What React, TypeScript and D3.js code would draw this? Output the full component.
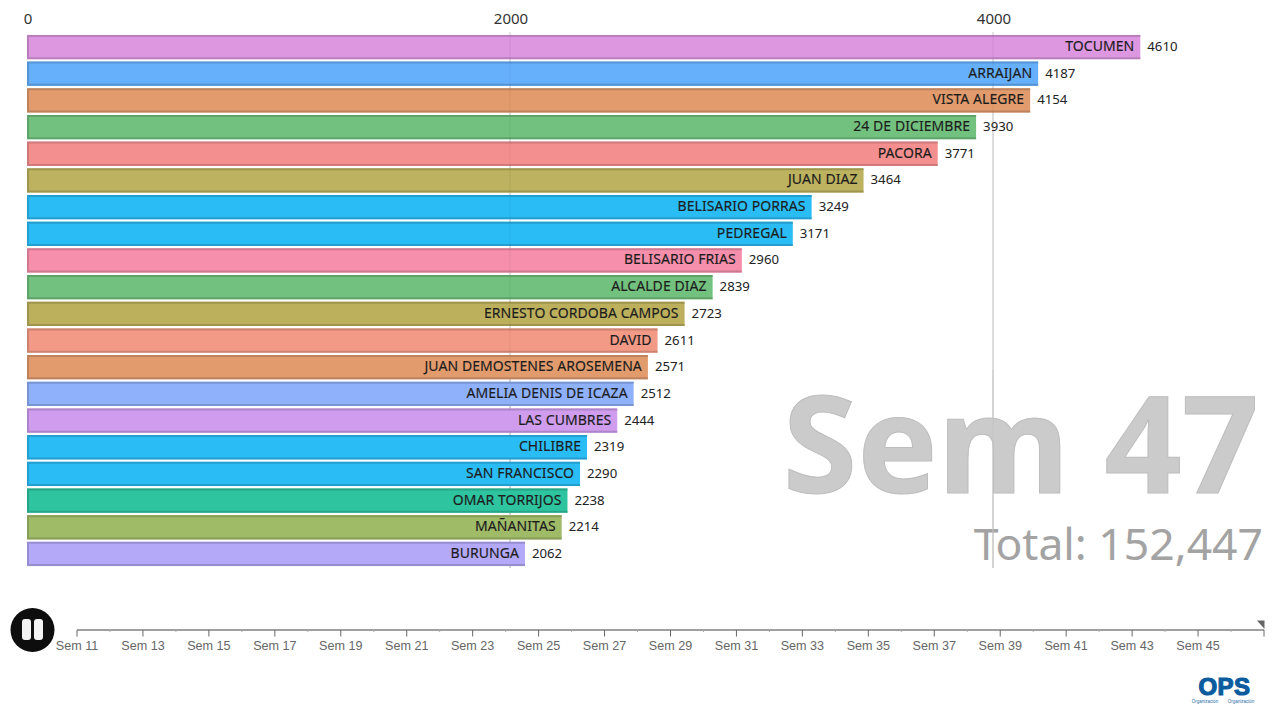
import React from "react";
import * as d3 from "d3";

const names = ["TOCUMEN","ARRAIJAN","VISTA ALEGRE","24 DE DICIEMBRE","PACORA","JUAN DIAZ","BELISARIO PORRAS","PEDREGAL","BELISARIO FRIAS","ALCALDE DIAZ","ERNESTO CORDOBA CAMPOS","DAVID","JUAN DEMOSTENES AROSEMENA","AMELIA DENIS DE ICAZA","LAS CUMBRES","CHILIBRE","SAN FRANCISCO","OMAR TORRIJOS","MAÑANITAS","BURUNGA"];
const values = [4610,4187,4154,3930,3771,3464,3249,3171,2960,2839,2723,2611,2571,2512,2444,2319,2290,2238,2214,2062];
const colors = ["#dc97e0","#66b0fb","#e29b6d","#72c17e","#f48f8f","#bcb25e","#2bbcf5","#2bbcf5","#f58fab","#72c17e","#bdb05c","#f29a86","#e29b6d","#8fb0fa","#cf9cee","#2bbcf5","#2bbcf5","#2fc4a0","#a0bb68","#b4a8f8"];
const axisTicks = [0,2000,4000];
const weeks = d3.range(11, 48);
const weekLabels = d3.range(11, 46, 2);

const x = d3.scaleLinear().domain([0, 4000]).range([27, 993]);
const y = d3.scaleBand<number>().domain(d3.range(names.length)).range([33.7, 567.3]).paddingInner(0.09).paddingOuter(0.045);
const t = d3.scaleLinear().domain([11, 47]).range([77, 1264]);

const FONT = "'Noto Sans', sans-serif";
const ARIAL = "'Liberation Sans', Arial, sans-serif";

export default function App() {
  return (
    <svg width={1277} height={704} style={{ position: "absolute", left: 0, top: 0, background: "#fff" }}>
      <defs>
        <filter id="soft" x="-2%" y="-20%" width="104%" height="140%">
          <feGaussianBlur stdDeviation={0.45} />
        </filter>
      </defs>
      {axisTicks.filter((v) => v > 0).map((v) => (
        <line key={v} x1={x(v)} x2={x(v)} y1={32} y2={568} stroke="#c9c9c9" />
      ))}
      <text x={1259} y={493} textAnchor="end" fontFamily={FONT} fontWeight={700} fontSize={135} fill="#cbcbcb" stroke="#bdbdbd" strokeWidth={1}>Sem 47</text>
      <text x={1263} y={560} textAnchor="end" fontFamily={FONT} fontSize={44.5} fill="#a3a3a3">Total: 152,447</text>
      {axisTicks.filter((v) => v > 0).map((v) => (
        <line key={v} x1={x(v)} x2={x(v)} y1={370} y2={568} stroke="#c4c4c4" />
      ))}
      {names.map((n, i) => {
        const yy = y(i)!;
        const h = y.bandwidth();
        const w = x(values[i]) - x(0);
        const c = colors[i];
        const edge = d3.color(c)!.darker(0.7).formatHex();
        return (
          <g key={n}>
            <rect x={x(0)} y={yy} width={w} height={h} fill={c} filter="url(#soft)" />
            <path d={`M${x(0) + w},${yy + 1} H${x(0) + 1} V${yy + h - 1} H${x(0) + w}`} fill="none" stroke={edge} strokeWidth={2} opacity={0.7} filter="url(#soft)" />
            <text x={x(values[i]) - 6} y={yy + h / 2 + 4} textAnchor="end" fontFamily={FONT} fontSize={14} letterSpacing={0.06} fill="#1c1c1c" stroke="#1c1c1c" strokeWidth={0.15}>{n}</text>
            <text x={x(values[i]) + 7} y={yy + h / 2 + 4} fontFamily={FONT} fontSize={13.2} fill="#222">{values[i]}</text>
          </g>
        );
      })}
      {axisTicks.map((v) => (
        <g key={v}>
          {v > 0 && <line x1={x(v)} x2={x(v)} y1={35} y2={370} stroke="#000" strokeOpacity={0.06} />}
          <text x={x(v) + 1} y={24} textAnchor="middle" fontFamily={FONT} fontSize={15} fill="#333">{v}</text>
        </g>
      ))}

      <line x1={t(11)} x2={t(47)} y1={630} y2={630} stroke="#808080" strokeWidth={1.5} />
      {weeks.map((w) => {
        const major = (w - 11) % 2 === 0;
        return <line key={w} x1={t(w)} x2={t(w)} y1={630} y2={major ? 636.5 : 632} stroke={major ? "#666" : "#aaa"} />;
      })}
      {weekLabels.map((w) => (
        <text key={w} x={t(w)} y={650} textAnchor="middle" fontFamily={ARIAL} fontSize={12.6} fill="#666">{`Sem ${w}`}</text>
      ))}
      <path d={`M${t(47) - 7},620.5 L${t(47) + 0.5},620.5 L${t(47) + 0.5},629 Z`} fill="#666" />

      <circle cx={32.5} cy={630} r={22} fill="#0d0d0d" />
      <rect x={22} y={619} width={9} height={21} rx={3} fill="#f2f2f2" />
      <rect x={34} y={619} width={9} height={21} rx={3} fill="#f2f2f2" />

      <text x={1224.5} y={695} textAnchor="middle" fontFamily={ARIAL} fontWeight={700} fontSize={24} fill="#0b5c9e" stroke="#0b5c9e" strokeWidth={1.2} letterSpacing={0.5}>OPS</text>
      <text x={1205} y={703} textAnchor="middle" fontFamily={ARIAL} fontSize={4.5} fill="#2a6ea8">Organización</text>
      <text x={1241} y={703} textAnchor="middle" fontFamily={ARIAL} fontSize={4.5} fill="#2a6ea8">Organización</text>
    </svg>
  );
}
